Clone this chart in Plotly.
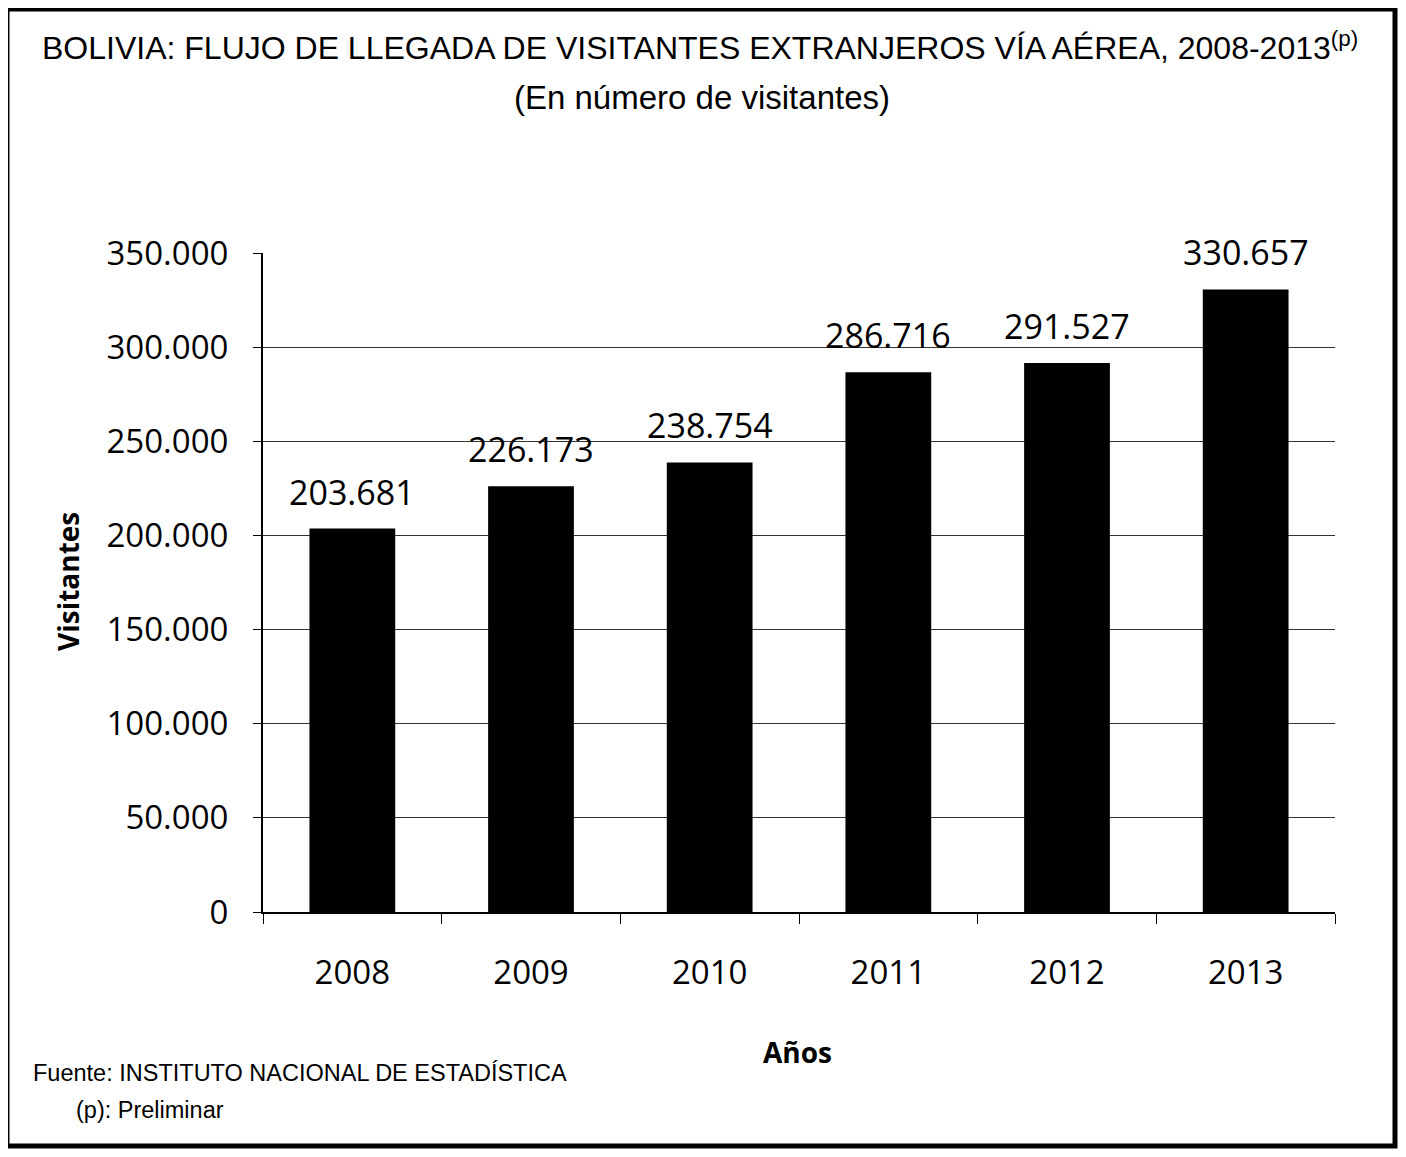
import plotly.graph_objects as go

years = ["2008", "2009", "2010", "2011", "2012", "2013"]
visitantes = [203681, 226173, 238754, 286716, 291527, 330657]
y_ticks = [0, 50000, 100000, 150000, 200000, 250000, 300000, 350000]

title_text = "BOLIVIA: FLUJO DE LLEGADA DE VISITANTES EXTRANJEROS VÍA AÉREA, 2008-2013<sup>(p)</sup>"
subtitle_text = "(En número de visitantes)"
source_text = "Fuente: INSTITUTO NACIONAL DE ESTADÍSTICA"
note_text = "(p): Preliminar"

# page body has an 8px margin; work in screenshot pixels and convert
OFF = 8
W, H = 1390, 1141
L, R, T, B = 263 - OFF, 1335 - OFF, 253 - OFF, 912 - OFF

def px(x):
    return (x - OFF - L) / (R - L)

def py(y):
    return (B - (y - OFF)) / (B - T)

narrow = "Liberation Sans, Arial, sans-serif"
sans = "Open Sans, Noto Sans, sans-serif"

fig = go.Figure()
fig.add_trace(go.Bar(
    x=years, y=visitantes,
    marker=dict(color="#000000", line=dict(width=0)),
    width=0.48,
    hoverinfo="x+y",
))

annotations = []
for i, v in enumerate(visitantes):
    annotations.append(dict(
        x=i, y=v, xref="x", yref="y",
        text=f"{v:,}".replace(",", "."),
        showarrow=False, xanchor="center", yanchor="bottom", yshift=12,
        font=dict(family=sans, size=34, color="#000000"),
    ))

annotations += [
    dict(text=title_text, xref="paper", yref="paper", x=px(700), y=py(46),
         showarrow=False, xanchor="center", yanchor="middle",
         font=dict(family=narrow, size=32, color="#000000")),
    dict(text=subtitle_text, xref="paper", yref="paper", x=px(702), y=py(97),
         showarrow=False, xanchor="center", yanchor="middle",
         font=dict(family=narrow, size=33, color="#000000")),
    dict(text="Visitantes", xref="paper", yref="paper", x=px(68), y=py(582),
         showarrow=False, xanchor="center", yanchor="middle", textangle=-90,
         font=dict(family=sans, size=28, color="#000000", weight="bold")),
    dict(text="Años", xref="paper", yref="paper", x=px(797), y=py(1052),
         showarrow=False, xanchor="center", yanchor="middle",
         font=dict(family=sans, size=28, color="#000000", weight="bold")),
    dict(text=source_text, xref="paper", yref="paper", x=px(31), y=py(1073),
         showarrow=False, xanchor="left", yanchor="middle",
         font=dict(family=narrow, size=23.5, color="#000000")),
    dict(text=note_text, xref="paper", yref="paper", x=px(74), y=py(1110),
         showarrow=False, xanchor="left", yanchor="middle",
         font=dict(family=narrow, size=23.5, color="#000000")),
]

fig.update_layout(
    width=W, height=H,
    margin=dict(l=L, r=W - R, t=T, b=H - B),
    paper_bgcolor="white", plot_bgcolor="white",
    separators=",.",
    showlegend=False,
    font=dict(family=sans, color="#000000"),
    xaxis=dict(
        type="category",
        range=[-0.5, len(years) - 0.5],
        showline=True, linecolor="#000000", linewidth=2,
        ticks="outside", tickson="boundaries", ticklen=10, tickcolor="#000000",
        tickfont=dict(family=sans, size=33, color="#000000"),
        ticklabelstandoff=30,
        tickangle=0,
        showgrid=False,
    ),
    yaxis=dict(
        range=[0, 350000],
        tickvals=y_ticks,
        tickformat=",.0f",
        showline=True, linecolor="#000000", linewidth=2,
        ticks="outside", ticklen=8, tickcolor="#000000",
        tickfont=dict(family=sans, size=33, color="#000000"),
        ticklabelstandoff=18,
        showgrid=True, gridcolor="#333333", gridwidth=1,
        zeroline=False,
    ),
    shapes=[
        dict(type="rect", xref="paper", yref="paper",
             x0=px(7), x1=px(1395), y0=py(1146), y1=py(9),
             line=dict(color="#000000", width=5), fillcolor="rgba(0,0,0,0)",
             layer="above"),
    ],
    annotations=annotations,
)

fig.write_html("out.html")
